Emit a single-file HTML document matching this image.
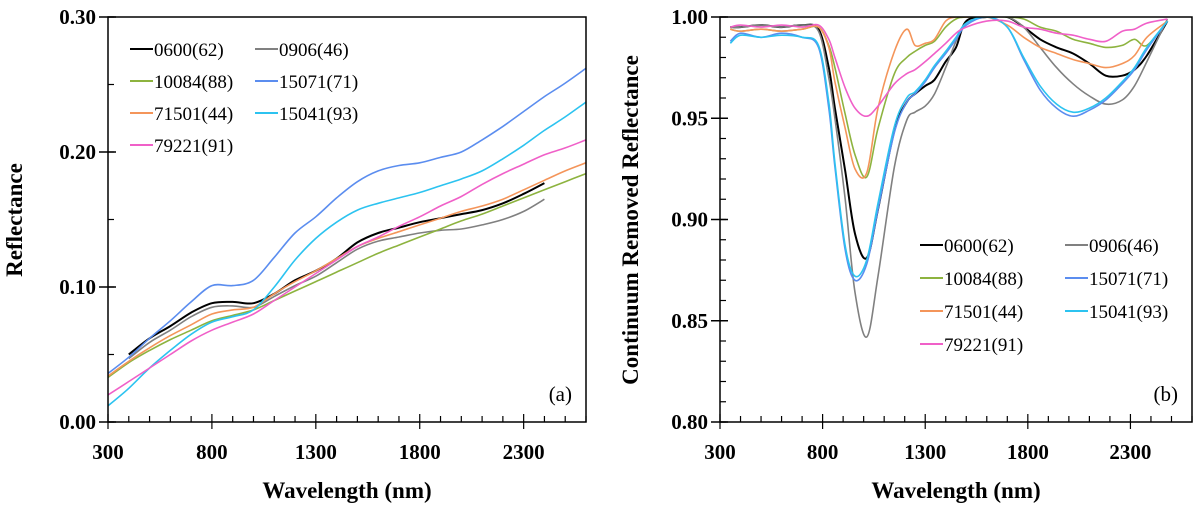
<!DOCTYPE html>
<html><head><meta charset="utf-8"><style>
body{margin:0;background:#fff}
svg{display:block;font-family:"Liberation Serif",serif}
</style></head><body>
<svg id="c" width="1200" height="511" xmlns="http://www.w3.org/2000/svg"></svg>
<script>
const wlA=[300,400,500,600,700,800,900,1000,1100,1200,1300,1400,1500,1600,1700,1800,1900,2000,2100,2200,2300,2400,2500,2600];
const wlB=[350,400,500,600,700,780,830,860,910,958,1015,1070,1150,1210,1250,1300,1345,1400,1450,1500,1600,1700,1780,1860,1940,2020,2100,2180,2260,2320,2380,2480];
const namesArr=["0600(62)","0906(46)","10084(88)","15071(71)","71501(44)","15041(93)","79221(91)"];
const colors=["#000000","#808080","#8db33f","#5b8def","#f4955a","#2cc3f0","#f060c8"];
const refl0600=[null,0.050,0.062,0.071,0.081,0.088,0.089,0.088,0.095,0.105,0.112,0.121,0.133,0.140,0.144,0.148,0.151,0.154,0.157,0.162,0.169,0.177,null,null];
const refl0906=[null,0.047,0.059,0.068,0.078,0.085,0.086,0.085,0.093,0.101,0.108,0.118,0.128,0.134,0.137,0.140,0.142,0.143,0.146,0.150,0.156,0.165,null,null];
const refl10084=[0.033,0.044,0.053,0.061,0.068,0.075,0.079,0.083,0.090,0.097,0.104,0.111,0.118,0.125,0.131,0.137,0.143,0.149,0.154,0.160,0.166,0.172,0.178,0.184];
const refl15071=[0.036,0.048,0.062,0.075,0.089,0.101,0.101,0.105,0.122,0.140,0.152,0.166,0.178,0.186,0.190,0.192,0.196,0.200,0.209,0.219,0.230,0.241,0.251,0.262];
const refl71501=[0.034,0.045,0.055,0.064,0.072,0.080,0.083,0.085,0.095,0.104,0.112,0.121,0.130,0.136,0.141,0.146,0.151,0.156,0.160,0.165,0.172,0.179,0.186,0.192];
const refl15041=[0.012,0.025,0.040,0.053,0.065,0.074,0.078,0.083,0.100,0.120,0.136,0.148,0.157,0.162,0.166,0.170,0.175,0.180,0.186,0.195,0.205,0.216,0.226,0.237];
const refl79221=[0.020,0.030,0.040,0.050,0.060,0.068,0.074,0.080,0.090,0.100,0.110,0.120,0.130,0.137,0.145,0.152,0.160,0.167,0.176,0.184,0.191,0.198,0.203,0.209];
const cr0600=[0.995,0.995,0.996,0.995,0.996,0.994,0.975,0.955,0.924,0.893,0.881,0.905,0.944,0.958,0.962,0.966,0.969,0.978,0.985,0.998,1.000,1.000,0.995,0.989,0.985,0.982,0.977,0.971,0.971,0.974,0.981,0.998];
const cr0906=[0.995,0.995,0.996,0.995,0.996,0.993,0.970,0.950,0.910,0.864,0.842,0.872,0.926,0.949,0.953,0.956,0.962,0.975,0.988,0.997,1.000,1.000,0.995,0.985,0.975,0.967,0.961,0.957,0.959,0.966,0.978,0.999];
const cr10084=[0.994,0.993,0.994,0.993,0.994,0.995,0.986,0.975,0.952,0.932,0.921,0.945,0.972,0.980,0.983,0.986,0.988,0.995,0.999,1.000,1.000,1.000,0.999,0.995,0.993,0.989,0.987,0.985,0.986,0.989,0.986,0.998];
const cr15071=[0.988,0.992,0.990,0.992,0.990,0.985,0.955,0.926,0.885,0.870,0.878,0.905,0.943,0.958,0.962,0.968,0.975,0.982,0.989,0.996,1.000,0.995,0.979,0.964,0.955,0.951,0.954,0.959,0.967,0.974,0.984,0.998];
const cr71501=[0.994,0.993,0.994,0.993,0.994,0.995,0.985,0.968,0.945,0.925,0.923,0.955,0.983,0.994,0.986,0.987,0.989,0.998,1.000,1.000,1.000,0.996,0.990,0.985,0.982,0.979,0.977,0.975,0.977,0.981,0.990,0.998];
const cr15041=[0.987,0.991,0.990,0.991,0.990,0.986,0.958,0.928,0.887,0.872,0.880,0.908,0.946,0.960,0.963,0.969,0.976,0.983,0.990,0.997,1.000,0.995,0.980,0.966,0.957,0.953,0.955,0.960,0.968,0.975,0.985,0.998];
const cr79221=[0.995,0.996,0.995,0.996,0.995,0.996,0.989,0.980,0.965,0.955,0.951,0.956,0.967,0.972,0.974,0.978,0.982,0.987,0.992,0.995,0.998,0.998,0.995,0.994,0.992,0.991,0.989,0.988,0.993,0.994,0.997,0.999];
const ticksX=[300,800,1300,1800,2300];
const ticksYA=["0.00","0.10","0.20","0.30"];
const ticksYB=["0.80","0.85","0.90","0.95","1.00"];
const seriesA=[refl0600,refl0906,refl10084,refl15071,refl71501,refl15041,refl79221];
const seriesB=[cr0600,cr0906,cr10084,cr15071,cr71501,cr15041,cr79221];

const S="http://www.w3.org/2000/svg";
const svg=document.getElementById('c');
function el(t,a,p){const e=document.createElementNS(S,t);for(const k in a)e.setAttribute(k,a[k]);(p||svg).appendChild(e);return e;}
function txt(s,a,p){const e=el('text',a,p);e.textContent=s;return e;}
const A={x0:108,x1:586,y0:422,y1:17,vmin:0,vmax:0.30,minor:0.05};
const B={x0:720,x1:1192,y0:422,y1:17,vmin:0.80,vmax:1.00,minor:0.01};
function sx(P,w){return P.x0+(w-300)/(2600-300)*(P.x1-P.x0);}
function sy(P,v){return P.y0-(v-P.vmin)/(P.vmax-P.vmin)*(P.y0-P.y1);}
function pathD(pts){
  if(pts.length<2)return'';
  let d='M'+pts[0][0].toFixed(1)+','+pts[0][1].toFixed(1);
  for(let i=0;i<pts.length-1;i++){
    const p0=pts[i-1]||pts[i],p1=pts[i],p2=pts[i+1],p3=pts[i+2]||p2;
    const c1=[p1[0]+(p2[0]-p0[0])/6,p1[1]+(p2[1]-p0[1])/6];
    const c2=[p2[0]-(p3[0]-p1[0])/6,p2[1]-(p3[1]-p1[1])/6];
    d+='C'+c1[0].toFixed(1)+','+c1[1].toFixed(1)+' '+c2[0].toFixed(1)+','+c2[1].toFixed(1)+' '+p2[0].toFixed(1)+','+p2[1].toFixed(1);
  }
  return d;
}
function panel(P,wl,series,yt,ylab,tag,leg,pname){
  const g=el('g',{});
  
  
  const cp=el('clipPath',{id:'cp'+tag},g);
  el('rect',{x:P.x0,y:P.y1,width:P.x1-P.x0,height:P.y0-P.y1},cp);
  const sg=el('g',{'clip-path':'url(#cp'+tag+')'},g);
  series.forEach((arr,i)=>{
    const pts=[];
    arr.forEach((v,j)=>{if(v!==null)pts.push([sx(P,wl[j]),sy(P,v)]);});
    const p=el('path',{d:pathD(pts),fill:'none',stroke:colors[i],'stroke-width':i===0?2:1.6},sg);
    
    
  });
  const fr=el('rect',{x:P.x0,y:P.y1,width:P.x1-P.x0,height:P.y0-P.y1,fill:'none',stroke:'#000','stroke-width':1.5},g);
  
  
  for(let w=300;w<=2600;w+=100){
    const x=sx(P,w),maj=(w-300)%500===0;
    el('line',{x1:x,x2:x,y1:P.y0-(maj?0:0),y2:P.y0-(maj?8:6),stroke:'#000','stroke-width':1.2},g);
    if(maj){el('line',{x1:x,x2:x,y1:P.y0,y2:P.y0+7,stroke:'#000','stroke-width':1.2},g);}
  }
  ticksX.forEach(w=>{const t=txt(String(w),{x:sx(P,w),y:P.y0+37,'text-anchor':'middle','font-size':21,'font-weight':'bold'},g);
    });
  for(let v=P.vmin;v<=P.vmax+1e-9;v+=P.minor){
    const y=sy(P,v);el('line',{x1:P.x0,x2:P.x0+6,y1:y,y2:y,stroke:'#000','stroke-width':1.2},g);
  }
  yt.forEach(s=>{const y=sy(P,parseFloat(s));
    el('line',{x1:P.x0-9,x2:P.x0+8,y1:y,y2:y,stroke:'#000','stroke-width':1.4},g);
    const t=txt(s,{x:P.x0-12,y:y+7,'text-anchor':'end','font-size':21,'font-weight':'bold'},g);
    });
  const xt=txt('Wavelength (nm)',{x:(P.x0+P.x1)/2,y:498,'text-anchor':'middle','font-size':23,'font-weight':'bold'},g);
  
  const yx=ylab[1],yy=220;
  const ytt=txt(ylab[0],{x:yx,y:yy,'text-anchor':'middle','font-size':23,'font-weight':'bold',transform:'rotate(-90 '+yx+' '+yy+')'},g);
  
  const pl=txt('('+tag+')',{x:P.x1-14,y:401,'text-anchor':'end','font-size':21},g);
  
  namesArr.forEach((n,i)=>{
    const col=i%2,row=Math.floor(i/2);
    const lx=leg.x+col*leg.dx,ly=leg.y+row*leg.dy;
    const lg=el('g',{},g);
    
    
    el('line',{x1:lx,x2:lx+23,y1:ly,y2:ly,stroke:colors[i],'stroke-width':2},lg);
    txt(n,{x:lx+24,y:ly+7,'font-size':19},lg);
  });
}
panel(A,wlA,seriesA,ticksYA,['Reflectance',22],'a',{x:130,y:49,dx:125,dy:32},'panel-a');
panel(B,wlB,seriesB,ticksYB,['Continuum Removed Reflectance',638],'b',{x:920,y:245,dx:145,dy:33},'panel-b');
</script>
</body></html>
